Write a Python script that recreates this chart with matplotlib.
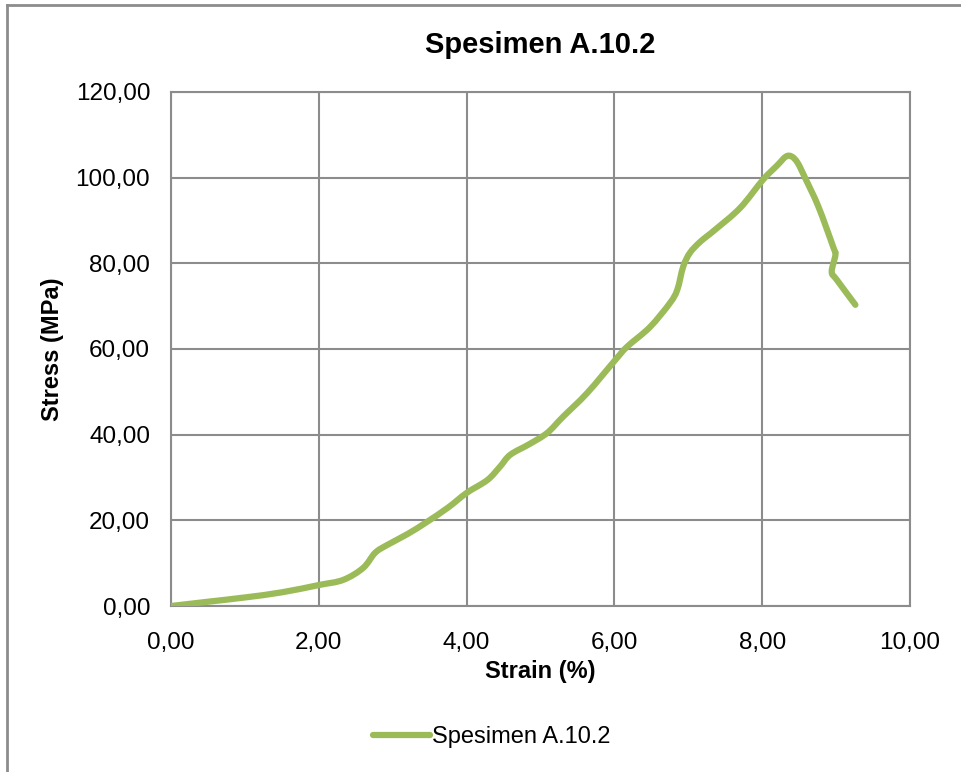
import matplotlib
matplotlib.use("Agg")
import numpy as np
import matplotlib.pyplot as plt
from matplotlib.lines import Line2D
from matplotlib.path import Path
from matplotlib.patches import PathPatch
from matplotlib.ticker import FuncFormatter, MultipleLocator

plt.rcParams["font.family"] = ["Liberation Sans", "DejaVu Sans"]

# Stress-strain readings for the specimen
strain = [0.00, 0.50, 1.00, 1.50, 2.00, 2.33, 2.60, 2.76, 2.92, 3.20, 3.46,
          3.75, 4.00, 4.28, 4.45, 4.59, 4.85, 5.09, 5.30, 5.63, 6.01, 6.17,
          6.48, 6.75, 6.85, 6.93, 7.02, 7.16, 7.36, 7.70, 8.01, 8.20,
          8.32, 8.40, 8.48, 8.58, 8.76, 8.96, 8.99, 8.94, 9.01, 9.26]
stress = [0.00, 1.0, 2.0, 3.2, 4.9, 6.1, 8.9, 12.4, 14.2, 16.8, 19.6,
          23.0, 26.4, 29.4, 32.5, 35.3, 37.8, 40.4, 44.1, 49.7, 57.4, 60.5,
          65.1, 70.7, 73.8, 79.2, 82.4, 85.0, 87.8, 92.9, 99.5, 102.8,
          104.9, 104.9, 103.4, 99.9, 93.2, 83.8, 82.0, 78.0, 76.1, 70.3]

series_name = "Spesimen A.10.2"
title = "Spesimen A.10.2"
x_label = "Strain (%)"
y_label = "Stress (MPa)"

fig = plt.figure(figsize=(9.61, 7.72), dpi=100)
ax = fig.add_axes([0.178, 0.215, 0.769, 0.666])

line_color = "#9BBB59"
grid_color = "#8C8C8C"
line_width = 4.5


def smooth_path(xs, ys):
    """Catmull-Rom style Bezier path through the readings (smoothed line)."""
    p = np.column_stack([xs, ys]).astype(float)
    n = len(p)
    verts = [p[0]]
    codes = [Path.MOVETO]
    for i in range(n - 1):
        p0 = p[i - 1] if i > 0 else p[i]
        p1, p2 = p[i], p[i + 1]
        p3 = p[i + 2] if i + 2 < n else p[i + 1]
        c1 = p1 + (p2 - p0) / 6.0
        c2 = p2 - (p3 - p1) / 6.0
        verts += [c1, c2, p2]
        codes += [Path.CURVE4] * 3
    return Path(np.array(verts), codes)


ax.add_patch(PathPatch(smooth_path(strain, stress), facecolor="none",
                       edgecolor=line_color, linewidth=line_width,
                       capstyle="round", joinstyle="round", zorder=3))

ax.set_xlim(0, 10)
ax.set_ylim(0, 120)
ax.xaxis.set_major_locator(MultipleLocator(2))
ax.yaxis.set_major_locator(MultipleLocator(20))
fmt = FuncFormatter(lambda v, p: f"{v:.2f}".replace(".", ","))
ax.xaxis.set_major_formatter(fmt)
ax.yaxis.set_major_formatter(fmt)

ax.grid(True, color=grid_color, linewidth=1.5)
ax.set_axisbelow(True)
for s in ax.spines.values():
    s.set_color(grid_color)
    s.set_linewidth(1.5)
ax.tick_params(axis="y", length=0, labelsize=17.5, pad=15, colors="black")
ax.tick_params(axis="x", length=0, labelsize=17.5, pad=19, colors="black")

ax.set_title(title, fontsize=21, fontweight="bold", pad=28)
ax.set_xlabel(x_label, fontsize=17, fontweight="bold", labelpad=4)
ax.set_ylabel(y_label, fontsize=17, fontweight="bold", labelpad=8)

legend_handle = Line2D([], [], color=line_color, linewidth=line_width,
                       solid_capstyle="round")
fig.legend([legend_handle], [series_name], loc="center",
           bbox_to_anchor=(0.512, 0.045), frameon=False,
           fontsize=17, handlelength=2.4, handletextpad=0.1)

# Outer chart frame (left and top edges)
fig.add_artist(Line2D([0.0078, 0.0078], [0.0, 0.9935], transform=fig.transFigure,
                      color="#8C8C8C", linewidth=2))
fig.add_artist(Line2D([0.0078, 1.0], [0.9935, 0.9935], transform=fig.transFigure,
                      color="#8C8C8C", linewidth=2))

fig.savefig("out.png", dpi=100, facecolor="white")
